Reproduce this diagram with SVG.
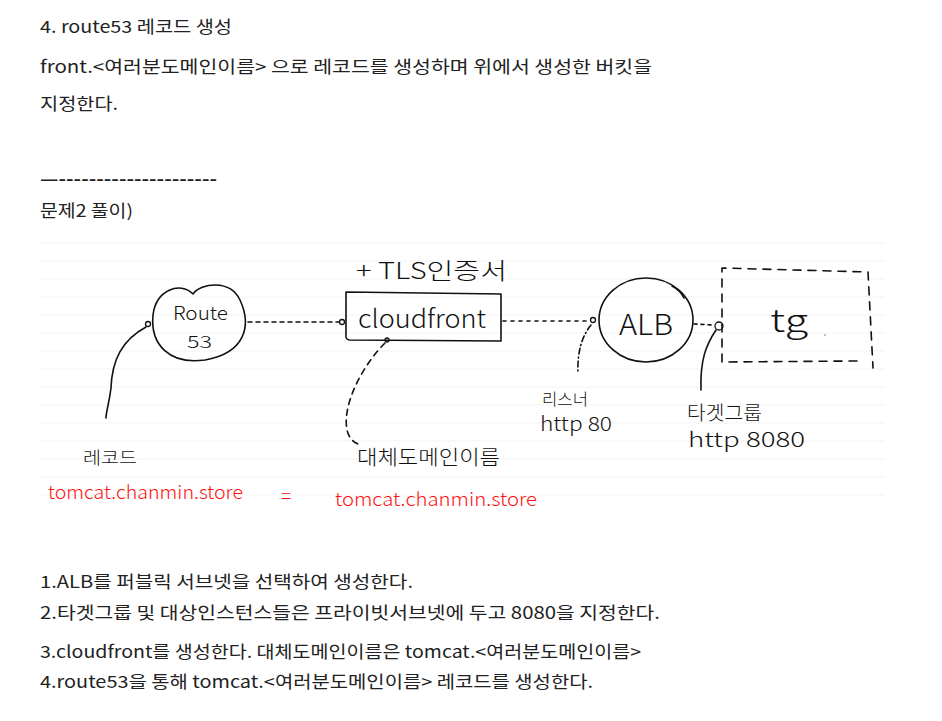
<svg xmlns="http://www.w3.org/2000/svg" width="942" height="721" viewBox="0 0 942 721">
<style>
text{white-space:pre}
.doc{font-family:"Noto Sans CJK KR","Noto Sans",sans-serif;font-size:17px;fill:#222}
.hand{font-family:"Noto Sans CJK KR","Noto Sans",sans-serif;font-weight:300;fill:#111}
.red{font-family:"Noto Sans CJK KR","Noto Sans",sans-serif;font-weight:300;fill:#ff1010;font-size:19px}
.ink{fill:none;stroke:#111;stroke-width:1.6;stroke-linecap:round;stroke-linejoin:round}
.rule{stroke:#f3f3f3;stroke-width:1}
.dot{fill:#fff;stroke:#111;stroke-width:1.3}
</style>
<rect width="942" height="721" fill="#fff"/>

<g id="top-text">
<text class="doc" x="40" y="33" textLength="192" lengthAdjust="spacingAndGlyphs">4. route53 레코드 생성</text>
<text class="doc" x="40" y="73" textLength="612" lengthAdjust="spacingAndGlyphs">front.&lt;여러분도메인이름&gt; 으로 레코드를 생성하며 위에서 생성한 버킷을</text>
<text class="doc" x="40" y="110" textLength="78" lengthAdjust="spacingAndGlyphs">지정한다.</text>
<text class="doc" x="40" y="185" textLength="177" lengthAdjust="spacingAndGlyphs" font-weight="bold">—---------------------</text>
<text class="doc" x="40" y="217" textLength="93" lengthAdjust="spacingAndGlyphs">문제2 풀이)</text>
</g>

<g id="ruled-lines">
<line class="rule" x1="40" y1="243" x2="885" y2="243"/>
<line class="rule" x1="40" y1="261" x2="885" y2="261"/>
<line class="rule" x1="40" y1="279" x2="885" y2="279"/>
<line class="rule" x1="40" y1="297" x2="885" y2="297"/>
<line class="rule" x1="40" y1="315" x2="885" y2="315"/>
<line class="rule" x1="40" y1="333" x2="885" y2="333"/>
<line class="rule" x1="40" y1="351" x2="885" y2="351"/>
<line class="rule" x1="40" y1="369" x2="885" y2="369"/>
<line class="rule" x1="40" y1="387" x2="885" y2="387"/>
<line class="rule" x1="40" y1="405" x2="885" y2="405"/>
<line class="rule" x1="40" y1="423" x2="885" y2="423"/>
<line class="rule" x1="40" y1="441" x2="885" y2="441"/>
<line class="rule" x1="40" y1="459" x2="885" y2="459"/>
<line class="rule" x1="40" y1="477" x2="885" y2="477"/>
<line class="rule" x1="40" y1="495" x2="885" y2="495"/>
</g>

<g id="connectors">
<path class="ink" d="M248,322 L339,322" stroke-dasharray="4 4"/>
<path class="ink" d="M503,321 L590,321" stroke-dasharray="3 5"/>
<path class="ink" d="M694,324 L714,325" stroke-dasharray="3 4"/>
<path class="ink" d="M146,327 C122,340 112,360 111,388 C109,404 106,412 106,418"/>
<path class="ink" d="M385,343 C362,366 342,405 347,430 C349,438 353,442 358,444" stroke-dasharray="6 5"/>
<path class="ink" d="M591,325 C582,336 577,352 578,374" stroke-dasharray="6 3 1 3"/>
<path class="ink" d="M716,330 C706,345 700,360 701,390"/>
<circle class="dot" cx="148" cy="324" r="2.5"/>
<circle class="dot" cx="342" cy="322" r="2.5"/>
<circle class="dot" cx="387" cy="340" r="2"/>
<circle class="dot" cx="593" cy="320" r="2.5"/>
<circle class="dot" cx="719" cy="326" r="4"/>
</g>

<g id="route53">
<path class="ink" d="M193,294 C201,283 230,279 240,300 C252,326 245,353 205,360 C170,365 150,345 153,315 C156,290 180,281 193,294 Z"/>
<text class="hand" x="173" y="320" font-size="19" textLength="55" lengthAdjust="spacingAndGlyphs">Route</text>
<text class="hand" x="187" y="348" font-size="17" textLength="25" lengthAdjust="spacingAndGlyphs">53</text>
</g>

<g id="cloudfront">
<path class="ink" d="M346,292 L501,294 L501,341 L349,340 Q345,339 346,334 Z"/>
<text class="hand" x="358" y="328" font-size="25" textLength="128" lengthAdjust="spacingAndGlyphs">cloudfront</text>
<text class="hand" x="356" y="279" font-size="23" textLength="151" lengthAdjust="spacingAndGlyphs">+ TLS인증서</text>
</g>

<g id="alb">
<ellipse class="ink" cx="646" cy="320" rx="47" ry="42"/>
<path class="ink" d="M672,286 Q680,290 684,298"/>
<text class="hand" x="619" y="335" font-size="29" textLength="54" lengthAdjust="spacingAndGlyphs">ALB</text>
</g>

<g id="tg">
<path class="ink" d="M857,361 L722,362 L722,268 L868,272 L873,368" stroke-dasharray="8 7"/>
<text class="hand" x="770" y="332" font-size="31" textLength="38" lengthAdjust="spacingAndGlyphs">tg</text>
<circle cx="825" cy="335" r="1" fill="#aaa"/>
</g>

<g id="labels">
<text class="hand" x="83" y="464" font-size="17" textLength="54" lengthAdjust="spacingAndGlyphs">레코드</text>
<text class="hand" x="357" y="465" font-size="20" textLength="143" lengthAdjust="spacingAndGlyphs">대체도메인이름</text>
<text class="hand" x="542" y="405" font-size="16" textLength="46" lengthAdjust="spacingAndGlyphs">리스너</text>
<text class="hand" x="540" y="431" font-size="20" textLength="72" lengthAdjust="spacingAndGlyphs">http 80</text>
<text class="hand" x="687" y="420" font-size="19" textLength="75" lengthAdjust="spacingAndGlyphs">타겟그룹</text>
<text class="hand" x="688" y="447" font-size="21" textLength="117" lengthAdjust="spacingAndGlyphs">http 8080</text>
<text class="red" x="48" y="499" textLength="195" lengthAdjust="spacingAndGlyphs">tomcat.chanmin.store</text>
<text class="red" x="281" y="503" font-size="22">=</text>
<text class="red" x="335" y="506" textLength="202" lengthAdjust="spacingAndGlyphs">tomcat.chanmin.store</text>
</g>

<g id="bottom-text">
<text class="doc" x="40" y="588" textLength="373" lengthAdjust="spacingAndGlyphs">1.ALB를 퍼블릭 서브넷을 선택하여 생성한다.</text>
<text class="doc" x="40" y="619" textLength="620" lengthAdjust="spacingAndGlyphs">2.타겟그룹 및 대상인스턴스들은 프라이빗서브넷에 두고 8080을 지정한다.</text>
<text class="doc" x="40" y="658" textLength="601" lengthAdjust="spacingAndGlyphs">3.cloudfront를 생성한다. 대체도메인이름은 tomcat.&lt;여러분도메인이름&gt;</text>
<text class="doc" x="40" y="688" textLength="553" lengthAdjust="spacingAndGlyphs">4.route53을 통해 tomcat.&lt;여러분도메인이름&gt; 레코드를 생성한다.</text>
</g>
</svg>
